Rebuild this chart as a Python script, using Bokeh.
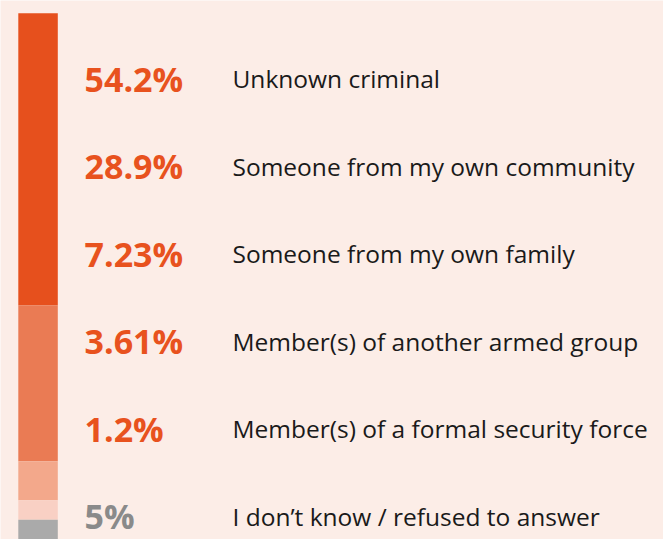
from bokeh.plotting import figure
from bokeh.models import Range1d, ColumnDataSource
from bokeh.core.properties import value
from bokeh.embed import file_html
from bokeh.resources import INLINE
import numpy as np

# ---- data ----
values = [54.2, 28.9, 7.23, 3.61, 1.2, 5]
value_labels = ["54.2%", "28.9%", "7.23%", "3.61%", "1.2%", "5%"]
categories = [
    "Unknown criminal",
    "Someone from my own community",
    "Someone from my own family",
    "Member(s) of another armed group",
    "Member(s) of a formal security force",
    "I don\u2019t know / refused to answer",
]
bar_colors = ["#e6501d", "#ea7b54", "#f3a88b", "#f9d0c4", "#aaaaaa", "#aaaaaa"]
label_colors = ["#e8521e", "#e8521e", "#e8521e", "#e8521e", "#e8521e", "#8a8a8a"]

BG = "#fcede7"
W, H = 663, 539

# y increases downward; ~5.39 px per percentage point
px_per_unit = 5.39
top_off = 12.8
y_top = -top_off / px_per_unit
y_bot = y_top + H / px_per_unit

p = figure(width=W, height=H, output_backend="svg", toolbar_location=None,
           x_range=Range1d(0, W), y_range=Range1d(y_bot, y_top),
           background_fill_color=BG, border_fill_color=BG,
           min_border=0, outline_line_color=None)
p.axis.visible = False
p.grid.visible = False

cum = np.cumsum(values)
bottoms = cum
tops = np.concatenate([[0], cum[:-1]])
bar_src = ColumnDataSource(dict(top=tops, bottom=bottoms, color=bar_colors))
p.quad(left=17.8, right=57.3, top="top", bottom="bottom", fill_color="color",
       line_color=None, source=bar_src)

# rows
row_px = 87.5
row0 = 78
r_top = -row0 / row_px
r_bot = r_top + H / row_px
p.extra_y_ranges = {"rows": Range1d(r_bot, r_top)}

rows = list(range(len(categories)))
txt_src = ColumnDataSource(dict(row=rows, val=value_labels, cat=categories, col=label_colors))
p.text(x=84, y="row", text="val", y_range_name="rows", text_color="col",
       text_font=value("Open Sans"), text_font_style="bold", text_font_size="34px",
       text_align="left", text_baseline="alphabetic", source=txt_src)
p.text(x=232, y="row", text="cat", y_range_name="rows", text_color="#1a1a1a",
       text_font=value("Open Sans"), text_font_size="24.5px",
       text_align="left", text_baseline="alphabetic", source=txt_src)

open("out.html", "w").write(file_html(p, INLINE))
